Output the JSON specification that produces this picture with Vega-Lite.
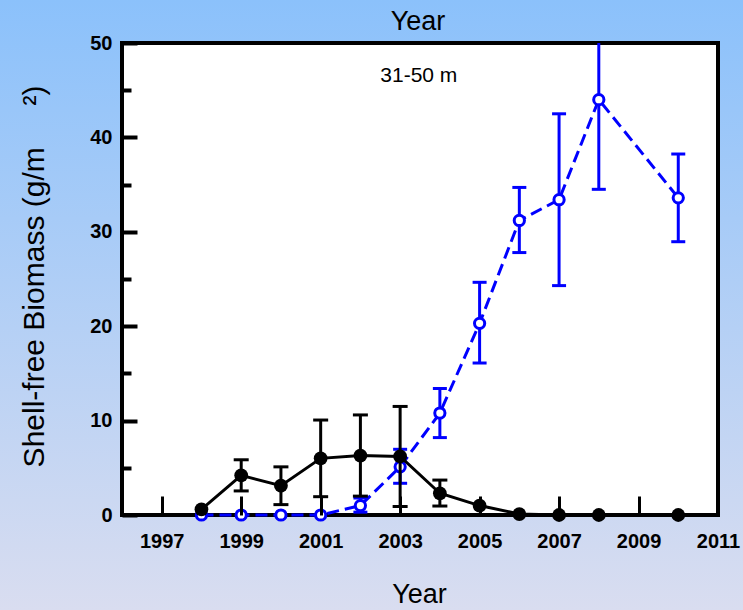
{
  "$schema": "https://vega.github.io/schema/vega-lite/v6.json",
  "width": 743,
  "height": 610,
  "autosize": "none",
  "padding": 0,
  "background": "#b4cff4",
  "config": {
    "view": {
      "stroke": null,
      "fill": {
        "gradient": "linear",
        "x1": 0, "y1": 0, "x2": 0, "y2": 1,
        "stops": [
          {"offset": 0, "color": "#8bc1fb"},
          {"offset": 1, "color": "#d9ddf0"}
        ]
      }
    },
    "font": "Liberation Sans",
    "axis": {"grid": false, "domain": false}
  },
  "datasets": {
    "biomass": [
      {"species": "Zebra mussel", "year": 1998, "value": 0.6},
      {"species": "Zebra mussel", "year": 1999, "value": 4.2, "lo": 2.55, "hi": 5.85},
      {"species": "Zebra mussel", "year": 2000, "value": 3.1, "lo": 1.1, "hi": 5.1},
      {"species": "Zebra mussel", "year": 2001, "value": 6.0, "lo": 1.94, "hi": 10.06},
      {"species": "Zebra mussel", "year": 2002, "value": 6.3, "lo": 2.0, "hi": 10.6},
      {"species": "Zebra mussel", "year": 2003, "value": 6.2, "lo": 0.9, "hi": 11.5},
      {"species": "Zebra mussel", "year": 2004, "value": 2.3, "lo": 0.95, "hi": 3.7},
      {"species": "Zebra mussel", "year": 2005, "value": 1.0},
      {"species": "Zebra mussel", "year": 2006, "value": 0.1},
      {"species": "Zebra mussel", "year": 2007, "value": 0},
      {"species": "Zebra mussel", "year": 2008, "value": 0},
      {"species": "Zebra mussel", "year": 2010, "value": 0},
      {"species": "Quagga mussel", "year": 1998, "value": 0},
      {"species": "Quagga mussel", "year": 1999, "value": 0},
      {"species": "Quagga mussel", "year": 2000, "value": 0},
      {"species": "Quagga mussel", "year": 2001, "value": 0},
      {"species": "Quagga mussel", "year": 2002, "value": 1.0, "lo": 0.3, "hi": 1.8},
      {"species": "Quagga mussel", "year": 2003, "value": 5.1, "lo": 3.36, "hi": 6.96},
      {"species": "Quagga mussel", "year": 2004, "value": 10.8, "lo": 8.2, "hi": 13.4},
      {"species": "Quagga mussel", "year": 2005, "value": 20.3, "lo": 16.1, "hi": 24.65},
      {"species": "Quagga mussel", "year": 2006, "value": 31.2, "lo": 27.8, "hi": 34.7},
      {"species": "Quagga mussel", "year": 2007, "value": 33.4, "lo": 24.3, "hi": 42.5},
      {"species": "Quagga mussel", "year": 2008, "value": 44.0, "lo": 34.5, "hi": 50},
      {"species": "Quagga mussel", "year": 2010, "value": 33.6, "lo": 28.95, "hi": 38.24}
    ]
  },
  "data": {"name": "biomass"},
  "layer": [
    {
      "data": {"values": [{"depth": "31-50 m"}]},
      "mark": {"type": "rect", "fill": "white", "stroke": "black", "strokeWidth": 4},
      "encoding": {
        "x": {"datum": 1996, "type": "quantitative"},
        "x2": {"datum": 2011},
        "y": {"datum": 0, "type": "quantitative"},
        "y2": {"datum": 50}
      }
    },
    {
      "data": {"values": [{"depth": "31-50 m"}]},
      "mark": {"type": "text", "font": "Liberation Sans", "fontSize": 21, "fontWeight": "normal", "color": "black", "align": "center", "baseline": "middle"},
      "encoding": {
        "x": {"datum": 2003.47, "type": "quantitative"},
        "y": {"datum": 46.5, "type": "quantitative"},
        "text": {"field": "depth"}
      }
    },
    {
      "data": {"values": [{"heading": "Year"}]},
      "mark": {"type": "text", "font": "Liberation Sans", "fontSize": 27, "fontWeight": "normal", "color": "black", "align": "center", "baseline": "alphabetic"},
      "encoding": {
        "x": {"datum": 2003.45, "type": "quantitative"},
        "y": {"datum": 51.38, "type": "quantitative"},
        "text": {"field": "heading"}
      }
    },
    {
      "transform": [{"filter": "datum.species === 'Quagga mussel' && isValid(datum.lo)"}],
      "mark": {"type": "rule", "color": "#0000ff", "strokeWidth": 3},
      "encoding": {
        "x": {"field": "year", "type": "quantitative"},
        "y": {"field": "lo", "type": "quantitative"},
        "y2": {"field": "hi"}
      }
    },
    {
      "transform": [{"filter": "datum.species === 'Quagga mussel' && isValid(datum.lo)"}],
      "mark": {"type": "tick", "orient": "horizontal", "color": "#0000ff", "size": 14, "thickness": 3, "opacity": 1},
      "encoding": {
        "x": {"field": "year", "type": "quantitative"},
        "y": {"field": "lo", "type": "quantitative"}
      }
    },
    {
      "transform": [{"filter": "datum.species === 'Quagga mussel' && isValid(datum.hi) && datum.hi < 50"}],
      "mark": {"type": "tick", "orient": "horizontal", "color": "#0000ff", "size": 14, "thickness": 3, "opacity": 1},
      "encoding": {
        "x": {"field": "year", "type": "quantitative"},
        "y": {"field": "hi", "type": "quantitative"}
      }
    },
    {
      "transform": [{"filter": "datum.species === 'Quagga mussel'"}],
      "mark": {"type": "line", "color": "#0000ff", "strokeWidth": 3, "strokeDash": [12, 6]},
      "encoding": {
        "x": {
          "field": "year",
          "type": "quantitative",
          "scale": {"domain": [1996, 2011], "range": [122, 718], "nice": false, "zero": false},
          "axis": {
            "title": "Year",
            "values": [1997, 1999, 2001, 2003, 2005, 2007, 2009, 2011],
            "format": "d",
            "domain": false,
            "grid": false,
            "offset": -95,
            "tickSize": -19,
            "tickWidth": 3,
            "tickColor": "black",
            "labelFont": "Liberation Sans",
            "labelFontWeight": "bold",
            "labelFontSize": 20,
            "labelColor": "black",
            "labelPadding": 35,
            "labelFlush": false,
            "labelOverlap": false,
            "titleFont": "Liberation Sans",
            "titleFontWeight": "normal",
            "titleFontSize": 27,
            "titleColor": "black",
            "titleX": 419,
            "titleY": 87,
            "titleAlign": "center",
            "titleBaseline": "alphabetic",
            "zindex": 1
          }
        },
        "y": {
          "field": "value",
          "type": "quantitative",
          "scale": {"domain": [0, 50], "range": [515, 43], "nice": false, "zero": true},
          "axis": {
            "title": "Shell-free Biomass (g/m\u00a0\u00a0\u00a0\u00a0\u00a0²)",
            "values": [0, 5, 10, 15, 20, 25, 30, 35, 40, 45, 50],
            "labelExpr": "datum.value % 10 === 0 ? datum.label : ''",
            "domain": false,
            "grid": false,
            "offset": -122,
            "tickSize": {"condition": {"test": "datum.value % 10 === 0", "value": -15}, "value": -9},
            "tickWidth": 4,
            "tickColor": "black",
            "labelFont": "Liberation Sans",
            "labelFontWeight": "bold",
            "labelFontSize": 20,
            "labelColor": "black",
            "labelPadding": 25,
            "labelFlush": false,
            "labelOverlap": false,
            "titleFont": "Liberation Sans",
            "titleFontWeight": "normal",
            "titleFontSize": 30,
            "titleColor": "black",
            "titleAngle": -90,
            "titleX": -79,
            "titleY": 276,
            "titleAlign": "center",
            "titleBaseline": "alphabetic",
            "zindex": 1
          }
        }
      }
    },
    {
      "transform": [{"filter": "datum.species === 'Quagga mussel'"}],
      "mark": {"type": "point", "shape": "circle", "fill": "white", "stroke": "#0000ff", "strokeWidth": 3, "size": 105, "opacity": 1, "filled": false},
      "encoding": {
        "x": {"field": "year", "type": "quantitative"},
        "y": {"field": "value", "type": "quantitative"}
      }
    },
    {
      "transform": [{"filter": "datum.species === 'Zebra mussel' && isValid(datum.lo)"}],
      "mark": {"type": "rule", "color": "black", "strokeWidth": 3},
      "encoding": {
        "x": {"field": "year", "type": "quantitative"},
        "y": {"field": "lo", "type": "quantitative"},
        "y2": {"field": "hi"}
      }
    },
    {
      "transform": [{"filter": "datum.species === 'Zebra mussel' && isValid(datum.lo)"}],
      "mark": {"type": "tick", "orient": "horizontal", "color": "black", "size": 15, "thickness": 3, "opacity": 1},
      "encoding": {
        "x": {"field": "year", "type": "quantitative"},
        "y": {"field": "lo", "type": "quantitative"}
      }
    },
    {
      "transform": [{"filter": "datum.species === 'Zebra mussel' && isValid(datum.hi)"}],
      "mark": {"type": "tick", "orient": "horizontal", "color": "black", "size": 15, "thickness": 3, "opacity": 1},
      "encoding": {
        "x": {"field": "year", "type": "quantitative"},
        "y": {"field": "hi", "type": "quantitative"}
      }
    },
    {
      "transform": [{"filter": "datum.species === 'Zebra mussel'"}],
      "mark": {"type": "line", "color": "black", "strokeWidth": 3},
      "encoding": {
        "x": {"field": "year", "type": "quantitative"},
        "y": {"field": "value", "type": "quantitative"}
      }
    },
    {
      "transform": [{"filter": "datum.species === 'Zebra mussel'"}],
      "mark": {"type": "circle", "color": "black", "size": 190, "opacity": 1},
      "encoding": {
        "x": {"field": "year", "type": "quantitative"},
        "y": {"field": "value", "type": "quantitative"}
      }
    }
  ]
}
